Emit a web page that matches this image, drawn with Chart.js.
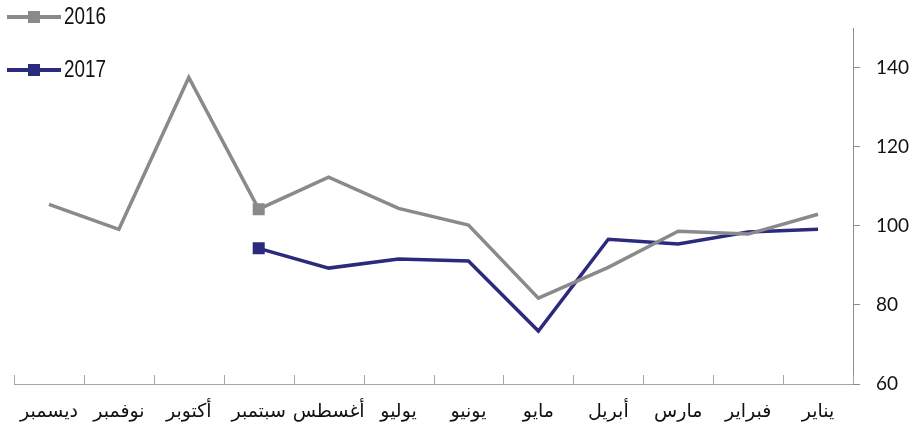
<!DOCTYPE html>
<html>
<head>
<meta charset="utf-8">
<script src="https://cdn.jsdelivr.net/npm/chart.js@4/dist/chart.umd.min.js"></script>
<style>
  html, body { margin: 0; padding: 0; background: #fff; }
  #wrap { position: relative; width: 920px; height: 430px; }
  #legend { position: absolute; left: 7px; top: 0; font-family: "Liberation Sans", sans-serif; font-size: 23px; color: #111; }
  .item { position: absolute; left: 0; display: flex; align-items: center; white-space: nowrap; }
  .sw { position: relative; width: 54px; height: 4px; margin-right: 3px; }
  .sw span { position: absolute; left: 21px; top: -4px; width: 12px; height: 12px; }
  .txt { display: inline-block; transform: scaleX(0.82); transform-origin: left center; }
</style>
</head>
<body>
<div id="wrap">
  <canvas id="myChart" width="920" height="430"></canvas>
  <div id="legend"></div>
</div>
<script>
var months = ['يناير', 'فبراير', 'مارس', 'أبريل', 'مايو', 'يونيو', 'يوليو', 'أغسطس', 'سبتمبر', 'أكتوبر', 'نوفمبر', 'ديسمبر'];
var values2016 = [102.9, 97.9, 98.6, 89.5, 81.7, 100.2, 104.4, 112.3, 104.2, 137.5, 99.1, 105.4];
var values2017 = [99.1, 98.4, 95.4, 96.6, 73.4, 91.1, 91.6, 89.3, 94.3, null, null, null];
var yTicks = [60, 80, 100, 120, 140];

var grey = '#8a8a8a';
var navy = '#2c2a7c';

// square marker only on September
var markerAt = 8;
function radii() {
    return months.map(function (m, i) { return i === markerAt ? 8.5 : 0; });
}

// short tick marks on the category axis, pointing up into the plot
var innerTicks = {
    id: 'innerTicks',
    afterDraw: function (chart) {
        var x = chart.scales.x;
        var c = chart.ctx;
        c.save();
        c.strokeStyle = '#a6a6a6';
        c.lineWidth = 1;
        for (var i = 0; i <= months.length; i++) {
            var px = Math.round(x.getPixelForValue(i - 0.5)) + 0.5;
            c.beginPath();
            c.moveTo(px, x.top);
            c.lineTo(px, x.top - 9);
            c.stroke();
        }
        c.restore();
    }
};

var ctx = document.getElementById('myChart').getContext('2d');
var chart = new Chart(ctx, {
    type: 'line',
    data: {
        labels: months,
        datasets: [
            {
                label: '2016',
                data: values2016,
                borderColor: grey,
                backgroundColor: grey,
                borderWidth: 3.5,
                pointStyle: 'rect',
                pointRadius: radii(),
                pointBorderWidth: 0,
                tension: 0
            },
            {
                label: '2017',
                data: values2017,
                borderColor: navy,
                backgroundColor: navy,
                borderWidth: 3.5,
                pointStyle: 'rect',
                pointRadius: radii(),
                pointBorderWidth: 0,
                tension: 0
            }
        ]
    },
    options: {
        responsive: false,
        animation: false,
        layout: {
            padding: { left: 14, top: 28, right: 0, bottom: 0 }
        },
        plugins: {
            legend: { display: false },
            tooltip: { enabled: false }
        },
        scales: {
            x: {
                reverse: true,
                offset: true,
                grid: { display: false, offset: true },
                border: { display: true, color: '#a6a6a6', width: 1 },
                ticks: {
                    color: '#111',
                    padding: 9,
                    maxRotation: 0,
                    autoSkip: false,
                    font: { family: '"DejaVu Sans", "Noto Sans"', size: 19 }
                },
                afterFit: function (s) { s.height = 46; }
            },
            y: {
                position: 'right',
                min: 60,
                max: 150,
                afterBuildTicks: function (s) {
                    s.ticks = yTicks.map(function (v) { return { value: v }; });
                },
                grid: {
                    drawOnChartArea: false,
                    drawTicks: true,
                    tickLength: 7,
                    color: '#8c8c8c'
                },
                border: { display: true, color: '#8c8c8c', width: 1 },
                ticks: {
                    color: '#111',
                    padding: 16,
                    font: { family: 'Lato, "Noto Sans"', size: 19 }
                },
                afterFit: function (s) { s.width = 67; }
            }
        }
    },
    plugins: [innerTicks]
});

// legend built from the dataset labels and colours
var legend = document.getElementById('legend');
chart.data.datasets.forEach(function (ds, i) {
    var item = document.createElement('div');
    item.className = 'item';
    item.style.top = (i === 0 ? 3 : 56) + 'px';
    var sw = document.createElement('div');
    sw.className = 'sw';
    sw.style.background = ds.borderColor;
    var sq = document.createElement('span');
    sq.style.background = ds.borderColor;
    sw.appendChild(sq);
    var t = document.createElement('span');
    t.className = 'txt';
    t.textContent = ds.label;
    item.appendChild(sw);
    item.appendChild(t);
    legend.appendChild(item);
});
</script>
</body>
</html>
